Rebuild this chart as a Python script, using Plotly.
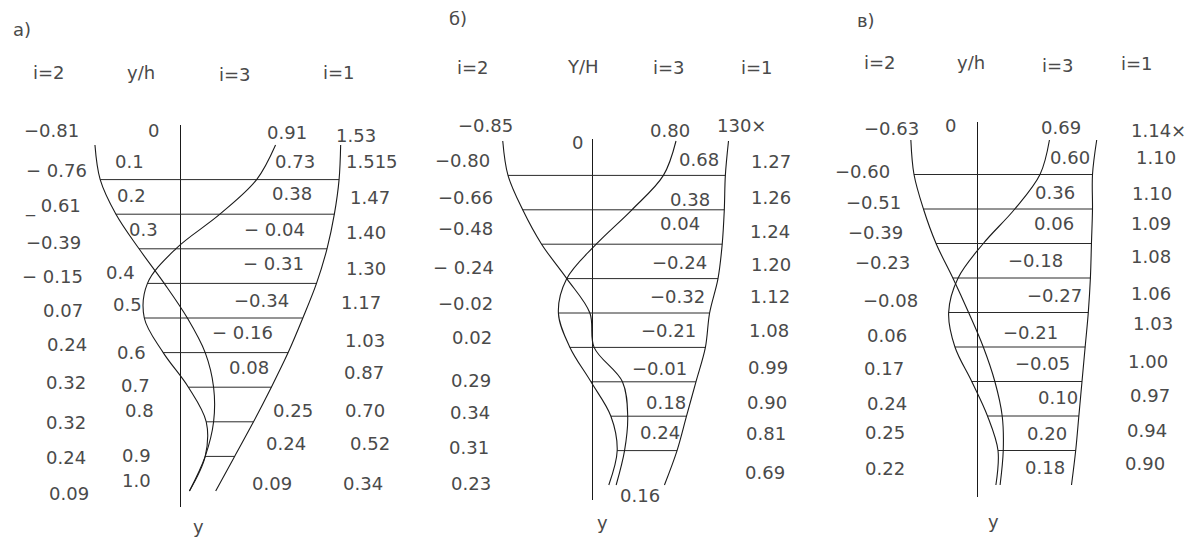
import plotly.graph_objects as go

# ---------------- data ----------------
YH = [0.0, 0.1, 0.2, 0.3, 0.4, 0.5, 0.6, 0.7, 0.8, 0.9, 1.0]
YH_LABELS = ["0", "0.1", "0.2", "0.3", "0.4", "0.5", "0.6", "0.7", "0.8", "0.9", "1.0"]

# panel а)
A_I2 = [-0.81, -0.76, -0.61, -0.39, -0.15, 0.07, 0.24, 0.32, 0.32, 0.24, 0.09]
A_I3 = [0.91, 0.73, 0.38, -0.04, -0.31, -0.34, -0.16, 0.08, 0.25, 0.24, 0.09]
A_I1 = [1.53, 1.515, 1.47, 1.40, 1.30, 1.17, 1.03, 0.87, 0.70, 0.52, 0.34]
A_I2_LABELS = ["−0.81", "− 0.76", "_ 0.61", "−0.39", "− 0.15", "0.07", "0.24", "0.32", "0.32", "0.24", "0.09"]
A_I3_LABELS = ["0.91", "0.73", "0.38", "− 0.04", "− 0.31", "−0.34", "− 0.16", "0.08", "0.25", "0.24", "0.09"]
A_I1_LABELS = ["1.53", "1.515", "1.47", "1.40", "1.30", "1.17", "1.03", "0.87", "0.70", "0.52", "0.34"]

# panel б)
B_I2 = [-0.85, -0.80, -0.66, -0.48, -0.24, -0.02, 0.02, 0.29, 0.34, 0.31, 0.23]
B_I3 = [0.80, 0.68, 0.38, 0.04, -0.24, -0.32, -0.21, -0.01, 0.18, 0.24, 0.16]
B_I1 = [1.30, 1.27, 1.26, 1.24, 1.20, 1.12, 1.08, 0.99, 0.90, 0.81, 0.69]
B_I2_LABELS = ["−0.85", "−0.80", "−0.66", "−0.48", "− 0.24", "−0.02", "0.02", "0.29", "0.34", "0.31", "0.23"]
B_I3_LABELS = ["0.80", "0.68", "0.38", "0.04", "−0.24", "−0.32", "−0.21", "−0.01", "0.18", "0.24", "0.16"]
B_I1_LABELS = ["130×", "1.27", "1.26", "1.24", "1.20", "1.12", "1.08", "0.99", "0.90", "0.81", "0.69"]

# panel в)
C_I2 = [-0.63, -0.60, -0.51, -0.39, -0.23, -0.08, 0.06, 0.17, 0.24, 0.25, 0.22]
C_I3 = [0.69, 0.60, 0.36, 0.06, -0.18, -0.27, -0.21, -0.05, 0.10, 0.20, 0.18]
C_I1 = [1.14, 1.10, 1.10, 1.09, 1.08, 1.06, 1.03, 1.00, 0.97, 0.94, 0.90]
C_I2_LABELS = ["−0.63", "−0.60", "−0.51", "−0.39", "−0.23", "−0.08", "0.06", "0.17", "0.24", "0.25", "0.22"]
C_I3_LABELS = ["0.69", "0.60", "0.36", "0.06", "−0.18", "−0.27", "−0.21", "−0.05", "0.10", "0.20", "0.18"]
C_I1_LABELS = ["1.14×", "1.10", "1.10", "1.09", "1.08", "1.06", "1.03", "1.00", "0.97", "0.94", "0.90"]

PANEL_TITLES = ["а)", "б)", "в)"]
HEADERS = [["i=2", "y/h", "i=3", "i=1"],
           ["i=2", "Y/H", "i=3", "i=1"],
           ["i=2", "y/h", "i=3", "i=1"]]
AXIS_NAME = "y"

# ---------------- layout (pixel geometry, not data) ----------------
W, H = 1197, 538
FONT = dict(family="DejaVu Sans, Liberation Sans, sans-serif", size=18, color="#4a4a4a")
INK = "#1a1a1a"

GEOM = [
    dict(x0=180, sx=105, y0=145, sy=346, top=125, bot=507),
    dict(x0=592, sx=105, y0=141, sy=344, top=139, bot=500),
    dict(x0=977, sx=105, y0=140, sy=345, top=122, bot=497),
]

TITLE_POS = [(22, 30), (458, 18), (866, 20)]
HEADER_POS = [
    [(49, 72), (141, 73), (235, 74), (339, 72)],
    [(473, 67), (583, 66), (669, 68), (757, 67)],
    [(880, 63), (971, 63), (1058, 65), (1137, 64)],
]
AXIS_NAME_POS = [(198, 526), (602, 522), (993, 521)]

LBL_POS = [
    dict(
        i2=[(51, 131), (56, 171), (53, 206), (53, 243), (52, 276), (63, 310), (67, 344), (66, 382), (66, 422), (66, 457), (69, 493)],
        yh=[(153, 130), (129, 162), (131, 195), (143, 230), (120, 272), (127, 304), (131, 352), (135, 385), (139, 410), (136, 455), (136, 480)],
        i3=[(287, 132), (295, 162), (292, 193), (274, 229), (273, 263), (261, 300), (242, 332), (249, 367), (293, 410), (286, 443), (272, 483)],
        i1=[(356, 135), (372, 162), (370, 197), (366, 232), (366, 268), (361, 302), (365, 340), (364, 372), (365, 410), (370, 443), (363, 483)],
    ),
    dict(
        i2=[(485, 126), (462, 160), (465, 197), (465, 228), (463, 267), (465, 303), (472, 337), (471, 380), (470, 412), (469, 447), (471, 483)],
        yh=[(577, 142)],
        i3=[(670, 130), (699, 159), (690, 199), (680, 223), (679, 262), (677, 297), (668, 330), (659, 368), (666, 402), (660, 432), (640, 495)],
        i1=[(741, 126), (771, 161), (771, 198), (770, 231), (771, 264), (770, 296), (769, 330), (768, 367), (767, 402), (766, 433), (765, 472)],
    ),
    dict(
        i2=[(891, 128), (862, 172), (873, 203), (875, 232), (882, 262), (890, 300), (887, 335), (884, 368), (887, 403), (885, 432), (885, 468)],
        yh=[(950, 125)],
        i3=[(1061, 127), (1070, 158), (1055, 192), (1054, 223), (1035, 260), (1054, 295), (1030, 332), (1042, 363), (1058, 397), (1047, 433), (1045, 467)],
        i1=[(1158, 130), (1156, 157), (1152, 193), (1151, 223), (1151, 257), (1151, 293), (1153, 323), (1148, 361), (1150, 395), (1147, 430), (1145, 463)],
    ),
]

PANELS = [
    (A_I2, A_I3, A_I1, A_I2_LABELS, A_I3_LABELS, A_I1_LABELS),
    (B_I2, B_I3, B_I1, B_I2_LABELS, B_I3_LABELS, B_I1_LABELS),
    (C_I2, C_I3, C_I1, C_I2_LABELS, C_I3_LABELS, C_I1_LABELS),
]

fig = go.Figure()
annotations = []


def ann(text, px, py):
    annotations.append(dict(
        text=text, x=px / W, y=1 - py / H, xref="paper", yref="paper",
        xanchor="center", yanchor="middle", showarrow=False, font=FONT,
    ))


layout_axes = {}
for k, ((i2, i3, i1, l2, l3, l1), g) in enumerate(zip(PANELS, GEOM)):
    n = "" if k == 0 else str(k + 1)
    xa, ya = "x" + n, "y" + n

    # horizontal section lines at interior levels
    hx, hy = [], []
    for j in range(1, len(YH) - 1):
        hx += [min(i2[j], i3[j]), i1[j], None]
        hy += [YH[j], YH[j], None]
    fig.add_trace(go.Scatter(x=hx, y=hy, mode="lines", xaxis=xa, yaxis=ya,
                             line=dict(color="#2a2a2a", width=1), hoverinfo="skip", showlegend=False))

    # velocity profiles
    for vals in (i2, i3, i1):
        fig.add_trace(go.Scatter(x=vals, y=YH, mode="lines", xaxis=xa, yaxis=ya,
                                 line=dict(color=INK, width=1.1, shape="spline", smoothing=1.0),
                                 hoverinfo="skip", showlegend=False))

    # axes: x zeroline acts as the vertical "y" axis of the drawing
    layout_axes["xaxis" + n] = dict(
        domain=[0, 1], range=[-g["x0"] / g["sx"], (W - g["x0"]) / g["sx"]],
        anchor=ya, showgrid=False, showticklabels=False, ticks="", showline=False,
        zeroline=True, zerolinecolor=INK, zerolinewidth=1, fixedrange=True,
    )
    layout_axes["yaxis" + n] = dict(
        domain=[1 - g["bot"] / H, 1 - g["top"] / H],
        range=[(g["bot"] - g["y0"]) / g["sy"], (g["top"] - g["y0"]) / g["sy"]],
        anchor=xa, showgrid=False, showticklabels=False, ticks="", showline=False,
        zeroline=False, fixedrange=True,
    )

    # texts
    ann(PANEL_TITLES[k], *TITLE_POS[k])
    for t, p in zip(HEADERS[k], HEADER_POS[k]):
        ann(t, *p)
    ann(AXIS_NAME, *AXIS_NAME_POS[k])
    pos = LBL_POS[k]
    for t, p in zip(l2, pos["i2"]):
        ann(t, *p)
    for t, p in zip(l3, pos["i3"]):
        ann(t, *p)
    for t, p in zip(l1, pos["i1"]):
        ann(t, *p)
    for t, p in zip(YH_LABELS, pos["yh"]):
        ann(t, *p)

fig.update_layout(
    width=W, height=H, margin=dict(l=0, r=0, t=0, b=0),
    paper_bgcolor="white", plot_bgcolor="rgba(0,0,0,0)",
    showlegend=False, annotations=annotations, **layout_axes,
)

fig.write_html(
    "out.html",
    config={"displayModeBar": False},
    post_script="document.body.style.margin='0';document.body.style.overflow='hidden';",
)
